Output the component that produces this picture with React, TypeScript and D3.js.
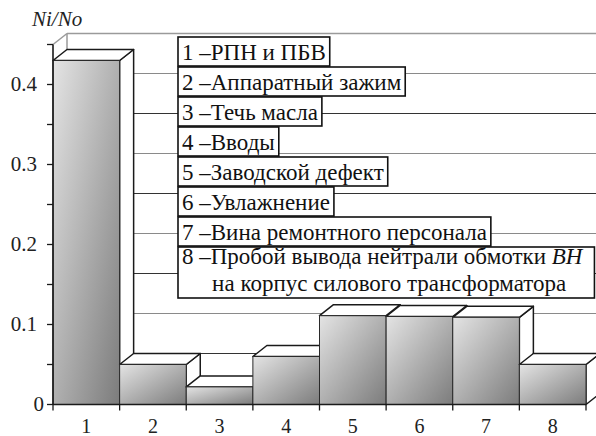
import { useLayoutEffect, useRef, useState } from 'react';
import * as d3 from 'd3';

// доля отказов по причинам
const categories = ['1', '2', '3', '4', '5', '6', '7', '8'];
const shares = [0.43, 0.05, 0.022, 0.06, 0.111, 0.11, 0.109, 0.05];

const yTickValues = [0, 0.05, 0.1, 0.15, 0.2, 0.25, 0.3, 0.35, 0.4, 0.45];
const yLabelValues = [0, 0.1, 0.2, 0.3, 0.4];
const gridValues = [0.05, 0.1, 0.15, 0.2, 0.25, 0.3, 0.35, 0.4];

const legendLines = [
    ['1 –РПН и ПБВ'],
    ['2 –Аппаратный  зажим'],
    ['3 –Течь масла'],
    ['4 –Вводы'],
    ['5 –Заводской дефект'],
    ['6 –Увлажнение'],
    ['7 –Вина ремонтного персонала'],
    ['8 –Пробой вывода нейтрали обмотки ', 'на корпус силового трансформатора'],
];
const legendItalic = ['', '', '', '', '', '', '', 'ВН'];

const yAxisTitle = 'Ni/No';

// layout
const FONT = '"Liberation Serif", "Times New Roman", Tinos, serif';
const W = 596;
const H = 436;
const DX = 14;
const DY = 11;
const startTextWidths = [154, 217, 132, 107, 206, 151, 309, 404];

const App = () => {
    const textRefs = useRef<(SVGTextElement | null)[]>([]);
    const [textWidths, setTextWidths] = useState(startTextWidths);

    useLayoutEffect(() => {
        const read = () => {
            const w = textRefs.current.map((t, i) => (t ? t.getComputedTextLength() : startTextWidths[i]));
            setTextWidths(w);
        };
        read();
        if (document.fonts && document.fonts.ready) document.fonts.ready.then(read);
    }, []);

    const x = d3.scaleBand().domain(categories).range([53, 586]).padding(0);
    const y = d3.scaleLinear().domain([0, 0.45]).range([404.5, 44.5]);
    const bw = x.bandwidth();
    const base = y(0);
    const wallX = 53 + DX;
    const wallTop = y(0.45) - DY;
    const lf = 23;
    const rowH = 30;
    const txt = { fontFamily: FONT };

    return (
        <svg width={W} height={H} fontFamily={FONT} style={{ position: 'absolute', left: 0, top: 0, fontFamily: FONT }}>
            <defs>
                <linearGradient id="barGrad" x1={0} y1={0} x2={1} y2={1}>
                    <stop offset="0%" stopColor="#e4e4e4" />
                    <stop offset="100%" stopColor="#7c7c7c" />
                </linearGradient>
            </defs>
            <rect width={W} height={H} fill="#fff" />

            {/* back wall */}
            {gridValues.map((v, i) => (
                <line key={v} x1={wallX} x2={W} y1={y(v) - DY} y2={y(v) - DY}
                    stroke={i % 2 === 0 ? '#333' : '#8a8a8a'} strokeWidth={1.2} />
            ))}
            <line x1={wallX} x2={W} y1={wallTop} y2={wallTop} stroke="#9a9a9a" strokeWidth={1.5} />
            <line x1={wallX} x2={wallX} y1={wallTop} y2={base - DY} stroke="#9a9a9a" strokeWidth={1.5} />
            <line x1={53} x2={wallX} y1={y(0.45)} y2={wallTop} stroke="#9a9a9a" strokeWidth={1.5} />

            {/* bars */}
            {categories.map((c, i) => {
                const bx = x(c) as number;
                const top = y(shares[i]);
                return (
                    <g key={c}>
                        <polygon
                            points={[[bx + bw, top], [bx + bw + DX, top - DY], [bx + bw + DX, base - DY], [bx + bw, base]].join(' ')}
                            fill="#fff" stroke="#1a1a1a" strokeWidth={1.5} strokeLinejoin="round" />
                        <polygon
                            points={[[bx, top], [bx + DX, top - DY], [bx + bw + DX, top - DY], [bx + bw, top]].join(' ')}
                            fill="#fff" stroke="#1a1a1a" strokeWidth={1.5} strokeLinejoin="round" />
                        <rect x={bx} y={top} width={bw} height={base - top}
                            fill="url(#barGrad)" stroke="#2a2a2a" strokeWidth={1} />
                    </g>
                );
            })}

            {/* legend */}
            {legendLines.map((lines, i) => {
                const top = 37 + i * rowH;
                const multi = lines.length > 1;
                const w1 = textWidths[i];
                return (
                    <g key={i} transform={`translate(178,${top})`}>
                        <rect x={0} y={0} width={w1 + (multi ? 16 : 8)} height={multi ? 51 : 29}
                            fill="#fff" stroke="#111" strokeWidth={1.6} />
                        <text ref={el => { textRefs.current[i] = el; }}
                            x={4} y={multi ? 17 : 23} fontSize={lf} fontFamily={FONT} fill="#111" style={txt}>
                            <tspan style={txt}>{lines[0]}</tspan>
                            {legendItalic[i] && (
                                <tspan style={{ fontFamily: FONT, fontStyle: 'italic' }}>{legendItalic[i]}</tspan>
                            )}
                        </text>
                        {multi && (
                            <text x={4 + w1 / 2 + 7} y={17 + 26.5} fontSize={lf} fontFamily={FONT} fill="#111"
                                textAnchor="middle" style={txt}>
                                {lines[1]}
                            </text>
                        )}
                    </g>
                );
            })}

            {/* y axis */}
            <line x1={53} x2={53} y1={y(0.45)} y2={base} stroke="#1a1a1a" strokeWidth={1.6} />
            {yTickValues.map(v => (
                <line key={v} x1={47} x2={53} y1={y(v)} y2={y(v)} stroke="#1a1a1a" strokeWidth={1.3} />
            ))}
            {yLabelValues.map(v => (
                <text key={v} x={v === 0 ? 44 : 37} y={y(v)} dy="0.33em" textAnchor="end"
                    fontSize={21} fontFamily={FONT} fill="#222" style={txt}>
                    {v === 0 ? '0' : d3.format('.1f')(v)}
                </text>
            ))}

            {/* x axis */}
            <line x1={53} x2={586} y1={base} y2={base} stroke="#1a1a1a" strokeWidth={1.6} />
            {[...categories.map(c => x(c) as number), x.range()[1]].map(b => (
                <line key={b} x1={b} x2={b} y1={base} y2={base + 6} stroke="#1a1a1a" strokeWidth={1.3} />
            ))}
            {categories.map(c => (
                <text key={c} x={(x(c) as number) + bw / 2} y={base + 28} textAnchor="middle"
                    fontSize={20} fontFamily={FONT} fill="#222" style={txt}>
                    {c}
                </text>
            ))}

            <text x={32} y={26} fontSize={21} fontFamily={FONT} fill="#222"
                style={{ fontFamily: FONT, fontStyle: 'italic' }}>
                {yAxisTitle}
            </text>
        </svg>
    );
};

export default App;
